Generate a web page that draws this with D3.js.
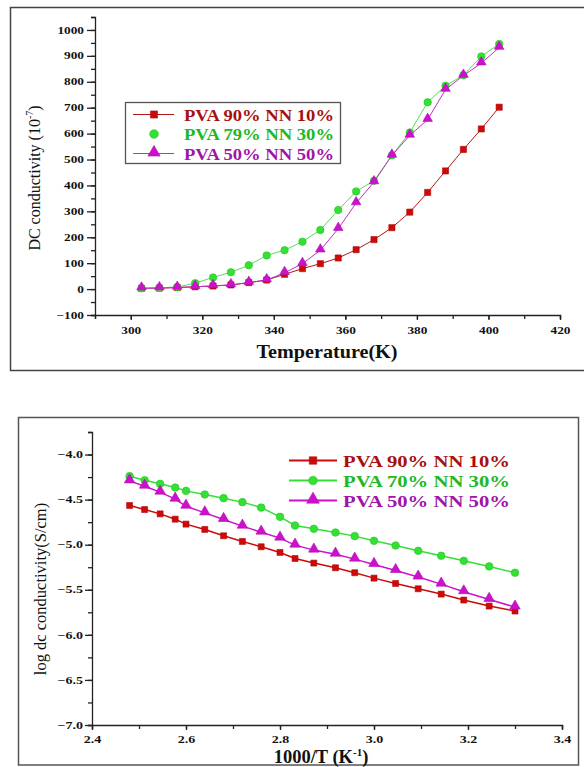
<!DOCTYPE html>
<meta charset="utf-8">
<style>
  body { margin: 0; background: #fff; }
  svg { display: block; font-family: "Liberation Serif", "Times New Roman", serif; }
  .tick text { font-family: "Liberation Serif", "Times New Roman", serif; font-weight: bold; font-size: 9.5px; fill: #111; }
  .domain, .tick line { stroke: #222; stroke-width: 1.3px; }
</style>
<div id="chart"></div>
<script src="https://cdn.jsdelivr.net/npm/d3@7"></script>
<script>

// top panel: DC conductivity vs temperature
var temps = [303, 308, 313, 318, 323, 328, 333, 338, 343, 348, 353, 358, 363, 368, 373, 378, 383, 388, 393, 398, 403];
var dc90 = [3, 4, 6, 9, 12, 16, 25, 35, 57, 79, 98, 120, 152, 191, 237, 297, 373, 456, 539, 618, 702];
var dc79 = [3, 5, 8, 23, 45, 65, 92, 130, 150, 183, 228, 305, 377, 418, 516, 604, 721, 785, 825, 898, 946];
var dc50 = [3, 4, 6, 9, 12, 16, 25, 35, 63, 98, 150, 233, 332, 413, 516, 593, 654, 770, 824, 872, 932];
var topXTicks = [300, 320, 340, 360, 380, 400, 420];
var topYTicks = [-100, 0, 100, 200, 300, 400, 500, 600, 700, 800, 900, 1000];
var topLabels = ["PVA 90% NN 10%", "PVA 79% NN 30%", "PVA 50% NN 50%"];

// bottom panel: log dc conductivity vs 1000/T
var invT = [2.48, 2.512, 2.545, 2.577, 2.60, 2.64, 2.68, 2.72, 2.76, 2.80, 2.832, 2.872, 2.918, 2.959, 3.0, 3.046, 3.094, 3.143, 3.191, 3.245, 3.30];
var log90 = [-4.565, -4.61, -4.658, -4.717, -4.772, -4.831, -4.901, -4.964, -5.023, -5.086, -5.153, -5.204, -5.256, -5.311, -5.371, -5.43, -5.489, -5.548, -5.614, -5.681, -5.736];
var log70 = [-4.24, -4.285, -4.325, -4.366, -4.403, -4.443, -4.484, -4.528, -4.588, -4.691, -4.787, -4.824, -4.865, -4.905, -4.957, -5.009, -5.068, -5.123, -5.179, -5.241, -5.311];
var log50 = [-4.292, -4.351, -4.417, -4.495, -4.573, -4.647, -4.72, -4.794, -4.861, -4.927, -5.005, -5.06, -5.105, -5.16, -5.219, -5.286, -5.359, -5.437, -5.522, -5.607, -5.692];
var botXTicks = [2.4, 2.6, 2.8, 3.0, 3.2, 3.4];
var botYTicks = [-7.0, -6.5, -6.0, -5.5, -5.0, -4.5, -4.0];
var botLabels = ["PVA 90% NN 10%", "PVA 70% NN 30%", "PVA 50% NN 50%"];

var W = 584, H = 767;
var svg = d3.select("#chart").append("svg").attr("width", W).attr("height", H);

var markColor = ["#cc0a0a", "#33e033", "#cc11cc"];
var lineColor = ["#b01818", "#55dd55", "#c030c0"];
var textColor = ["#a81010", "#22b822", "#a014a8"];
var symbols = [d3.symbolSquare, d3.symbolCircle, d3.symbolTriangle];

function marker(g, i, x, y, size) {
    g.append("path")
        .attr("d", d3.symbol().type(symbols[i]).size(size[i])())
        .attr("transform", "translate(" + x + "," + (i == 2 ? y - 1 : y) + ")")
        .attr("fill", markColor[i])
        .attr("stroke", d3.color(markColor[i]).darker(0.4))
        .attr("stroke-width", 0.6);
}

function minorTicks(a, b, step) {
    var out = [];
    for (var v = a; v <= b + 1e-9; v += step) out.push(+v.toFixed(3));
    return out;
}

// tick labels in the picture are short and wide
function widen(g, fs) {
    g.selectAll(".tick text").style("font-size", fs + "px").each(function () {
        var len = this.getComputedTextLength();
        d3.select(this).attr("textLength", len * 1.4).attr("lengthAdjust", "spacingAndGlyphs");
    });
}

// ---------- top panel ----------
svg.append("rect").attr("x", 10.5).attr("y", 7.5).attr("width", 600).attr("height", 363)
    .attr("fill", "none").attr("stroke", "#444").attr("stroke-width", 1.5);

var x1 = d3.scaleLinear().domain([290, 420]).range([95, 560]);
var y1 = d3.scaleLinear().domain([-100, 1050]).range([315, 17]);

var gTop = svg.append("g");
gTop.append("g").attr("transform", "translate(0,315)")
    .call(d3.axisBottom(x1).tickValues(minorTicks(290, 420, 10)).tickSize(4).tickFormat(""));
gTop.append("g").attr("transform", "translate(0,315)")
    .call(d3.axisBottom(x1).tickValues(topXTicks).tickSize(5).tickPadding(7).tickFormat(d3.format("d")))
    .call(function (g) { g.select(".domain").remove(); })
    .call(widen, 9.5);
gTop.append("g").attr("transform", "translate(95,0)")
    .call(d3.axisLeft(y1).tickValues(minorTicks(-100, 1050, 50)).tickSize(4).tickFormat(""));
gTop.append("g").attr("transform", "translate(95,0)")
    .call(d3.axisLeft(y1).tickValues(topYTicks).tickSize(8).tickPadding(3).tickFormat(d3.format("d")))
    .call(function (g) { g.select(".domain").remove(); })
    .call(widen, 9.5);

var topSeries = [dc90, dc79, dc50];
var topSize = [38, 44, 40];
topSeries.forEach(function (vals, i) {
    var pts = temps.map(function (t, k) { return [x1(t), y1(vals[k])]; });
    gTop.append("path").attr("d", d3.line()(pts)).attr("fill", "none")
        .attr("stroke", lineColor[i]).attr("stroke-width", 1);
    pts.forEach(function (p) { marker(gTop, i, p[0], p[1], topSize); });
});

gTop.append("text").attr("x", 327).attr("y", 358).attr("text-anchor", "middle")
    .attr("font-weight", "bold").attr("font-size", 19).attr("fill", "#111")
    .attr("textLength", 141).attr("lengthAdjust", "spacingAndGlyphs").text("Temperature(K)");

var yl1 = gTop.append("text").attr("transform", "translate(40,178) rotate(-90)")
    .attr("text-anchor", "middle").attr("font-size", 16).attr("fill", "#111");
yl1.append("tspan").text("DC conductivity (10");
yl1.append("tspan").attr("font-size", 10).attr("dy", -7).text("-7");
yl1.append("tspan").attr("dy", 7).text(")");

// legend box
gTop.append("rect").attr("x", 125.5).attr("y", 102.5).attr("width", 215).attr("height", 61)
    .attr("fill", "#fff").attr("stroke", "#555").attr("stroke-width", 1.3);
topLabels.forEach(function (lab, i) {
    var cy = 114.5 + i * 19.5;
    if (i != 1) {
        gTop.append("line").attr("x1", 133).attr("x2", 174).attr("y1", cy).attr("y2", cy)
            .attr("stroke", lineColor[i]).attr("stroke-width", 1);
    }
    marker(gTop, i, 154, cy, [50, 60, 65]);
    gTop.append("text").attr("x", 184).attr("y", cy + 6).attr("font-weight", "bold")
        .attr("font-size", 16.5).attr("fill", textColor[i])
        .attr("textLength", 150).attr("lengthAdjust", "spacingAndGlyphs").text(lab);
});

// ---------- bottom panel ----------
svg.append("rect").attr("x", 18.5).attr("y", 417.5).attr("width", 560).attr("height", 347.5)
    .attr("fill", "none").attr("stroke", "#555").attr("stroke-width", 1.5);

var x2 = d3.scaleLinear().domain([2.4, 3.4]).range([92, 562]);
var y2 = d3.scaleLinear().domain([-7, -3.75]).range([725, 432]);

var gBot = svg.append("g");
gBot.append("g").attr("transform", "translate(0,725)")
    .call(d3.axisBottom(x2).tickValues(minorTicks(2.4, 3.4, 0.1)).tickSize(4).tickFormat(""));
gBot.append("g").attr("transform", "translate(0,725)")
    .call(d3.axisBottom(x2).tickValues(botXTicks).tickSize(5).tickPadding(6).tickFormat(d3.format(".1f")))
    .call(function (g) { g.select(".domain").remove(); })
    .call(widen, 10);
gBot.append("g").attr("transform", "translate(92,0)")
    .call(d3.axisLeft(y2).tickValues(minorTicks(-7, -3.75, 0.25)).tickSize(4).tickFormat(""));
gBot.append("g").attr("transform", "translate(92,0)")
    .call(d3.axisLeft(y2).tickValues(botYTicks).tickSize(7).tickPadding(2).tickFormat(d3.format(".1f")))
    .call(function (g) { g.select(".domain").remove(); })
    .call(widen, 10);

var botSeries = [log90, log70, log50];
var botSize = [36, 46, 48];
botSeries.forEach(function (vals, i) {
    var pts = invT.map(function (t, k) { return [x2(t), y2(vals[k])]; });
    gBot.append("path").attr("d", d3.line()(pts)).attr("fill", "none")
        .attr("stroke", markColor[i]).attr("stroke-width", 1.5);
    pts.forEach(function (p) { marker(gBot, i, p[0], p[1], botSize); });
});

var xl2 = gBot.append("text").attr("x", 321).attr("y", 763).attr("text-anchor", "middle")
    .attr("font-weight", "bold").attr("font-size", 18.5).attr("fill", "#111");
xl2.append("tspan").text("1000/T (K");
xl2.append("tspan").attr("font-size", 11).attr("dy", -7).text("-1");
xl2.append("tspan").attr("dy", 7).text(")");

gBot.append("text").attr("transform", "translate(46,589) rotate(-90)")
    .attr("text-anchor", "middle").attr("font-size", 16.5).attr("fill", "#111")
    .text("log dc conductivity(S/cm)");

botLabels.forEach(function (lab, i) {
    var cy = 460.5 + i * 20;
    gBot.append("line").attr("x1", 289).attr("x2", 337).attr("y1", cy).attr("y2", cy)
        .attr("stroke", markColor[i]).attr("stroke-width", 1.8);
    marker(gBot, i, 313, cy, [55, 60, 70]);
    gBot.append("text").attr("x", 343).attr("y", cy + 6).attr("font-weight", "bold")
        .attr("font-size", 17.5).attr("fill", textColor[i])
        .attr("textLength", 167).attr("lengthAdjust", "spacingAndGlyphs").text(lab);
});

</script>
